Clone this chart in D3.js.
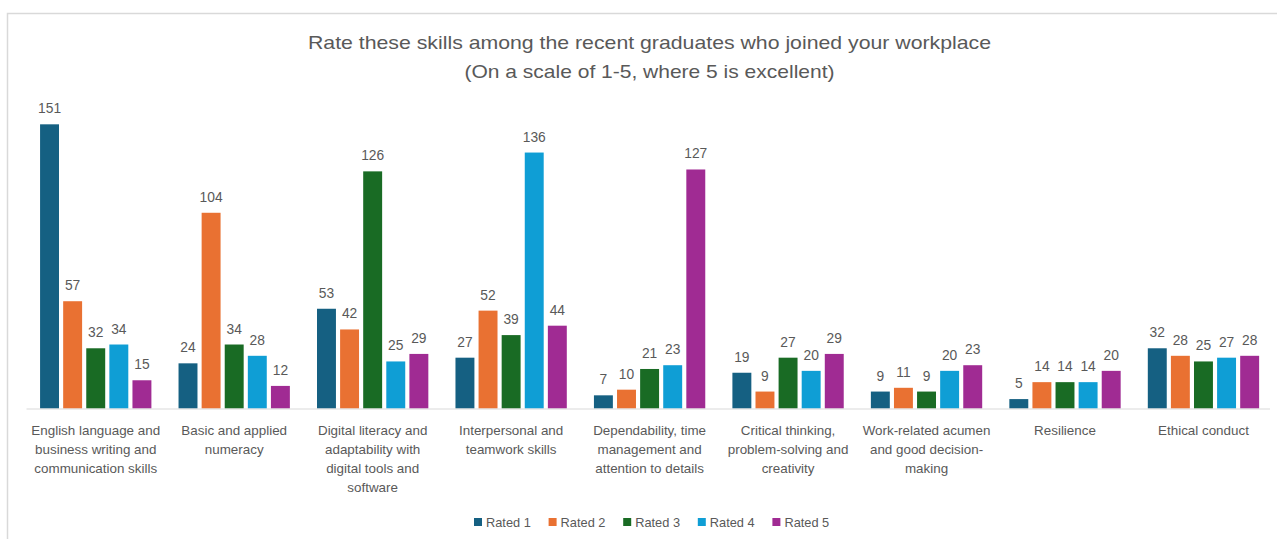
<!DOCTYPE html>
<html>
<head>
<meta charset="utf-8">
<script src="https://cdn.jsdelivr.net/npm/d3@7"></script>
<style>
  html, body { margin: 0; padding: 0; background: #fff; }
  svg { display: block; }
  text { font-family: "Liberation Sans", Arial, sans-serif; }
</style>
</head>
<body>
<svg id="chart" width="1277" height="539"></svg>
<script>
// Skill categories (each entry is the list of lines shown under the group)
const categoryLines = [
  ["English language and", "business writing and", "communication skills"],
  ["Basic and applied", "numeracy"],
  ["Digital literacy and", "adaptability with", "digital tools and", "software"],
  ["Interpersonal and", "teamwork skills"],
  ["Dependability, time", "management and", "attention to details"],
  ["Critical thinking,", "problem-solving and", "creativity"],
  ["Work-related acumen", "and good decision-", "making"],
  ["Resilience"],
  ["Ethical conduct"]
];
const categories = categoryLines.map(l => l.join(" "));

const seriesNames = ["Rated 1", "Rated 2", "Rated 3", "Rated 4", "Rated 5"];
const seriesColors = ["#156082", "#E97132", "#196B24", "#0F9ED5", "#A02B93"];

// Number of respondents giving each rating, per skill
const rated1 = [151, 24, 53, 27, 7, 19, 9, 5, 32];
const rated2 = [57, 104, 42, 52, 10, 9, 11, 14, 28];
const rated3 = [32, 34, 126, 39, 21, 27, 9, 14, 25];
const rated4 = [34, 28, 25, 136, 23, 20, 20, 14, 27];
const rated5 = [15, 12, 29, 44, 127, 29, 23, 20, 28];
const seriesValues = [rated1, rated2, rated3, rated4, rated5];

const titleLines = [
  "Rate these skills among the recent graduates who joined your workplace",
  "(On a scale of 1-5, where 5 is excellent)"
];

const svg = d3.select("#chart");
const W = 1277, H = 539;

// outer chart frame
svg.append("rect")
  .attr("x", 7.5).attr("y", 13.5)
  .attr("width", W + 10).attr("height", H + 10)
  .attr("fill", "#fff")
  .attr("stroke", "#d9d9d9").attr("stroke-width", 1.5);

// title
const titleG = svg.append("g").attr("fill", "#595959");
const titleWidths = [683, 370];
titleG.selectAll("text").data(titleLines).join("text")
  .attr("x", W / 2 + 11)
  .attr("y", (d, i) => 49 + i * 29)
  .attr("text-anchor", "middle")
  .attr("font-size", 19)
  .attr("font-family", "'Liberation Sans Narrow', 'Liberation Sans', sans-serif")
  .attr("textLength", (d, i) => titleWidths[i])
  .attr("lengthAdjust", "spacingAndGlyphs")
  .text(d => d);

// scales
const plotLeft = 26.5, plotRight = 1272.7;
const baseY = 408.5;
const x0 = d3.scaleBand()
  .domain(categories)
  .range([plotLeft, plotRight])
  .paddingInner(0.196)
  .paddingOuter(0.098);
const x1 = d3.scaleBand()
  .domain(seriesNames)
  .range([0, x0.bandwidth()])
  .paddingInner(0.18);
const y = d3.scaleLinear()
  .domain([0, 160])
  .range([baseY, baseY - 160 * 1.882]);

// bars
const groups = svg.append("g").selectAll("g")
  .data(categories)
  .join("g")
  .attr("transform", d => `translate(${x0(d)},0)`);

const cells = groups.selectAll("g.cell")
  .data((c, ci) => seriesNames.map((s, si) => ({ s, si, v: seriesValues[si][ci] })))
  .join("g").attr("class", "cell");

cells.append("rect")
  .attr("x", d => x1(d.s))
  .attr("y", d => y(d.v))
  .attr("width", x1.bandwidth())
  .attr("height", d => y(0) - y(d.v))
  .attr("fill", d => seriesColors[d.si]);

cells.append("text")
  .attr("x", d => x1(d.s) + x1.bandwidth() / 2)
  .attr("y", d => y(d.v) - 11)
  .attr("text-anchor", "middle")
  .attr("font-size", 13.8)
  .attr("fill", "#595959")
  .text(d => d.v);

// baseline
svg.append("line")
  .attr("x1", plotLeft).attr("x2", 1270)
  .attr("y1", baseY + 0.5).attr("y2", baseY + 0.5)
  .attr("stroke", "#d9d9d9").attr("stroke-width", 1.2);

// category axis labels
const xAxis = d3.axisBottom(x0).tickSize(0).tickFormat(() => "");
const axisG = svg.append("g")
  .attr("transform", `translate(0,${baseY})`)
  .call(xAxis);
axisG.select(".domain").remove();
axisG.selectAll(".tick text").remove();
axisG.selectAll(".tick").each(function (d, i) {
  const t = d3.select(this).append("text")
    .attr("text-anchor", "middle")
    .attr("fill", "#595959")
    .attr("font-size", 13.4);
  categoryLines[i].forEach((line, li) => {
    t.append("tspan")
      .attr("x", 0)
      .attr("y", 26 + li * 19)
      .text(line);
  });
});

// legend
const legend = svg.append("g").attr("transform", "translate(474,522)");
const legendItems = legend.selectAll("g")
  .data(seriesNames)
  .join("g")
  .attr("transform", (d, i) => `translate(${i * 74.6},0)`);
legendItems.append("rect")
  .attr("x", 0).attr("y", -4)
  .attr("width", 8).attr("height", 8)
  .attr("fill", (d, i) => seriesColors[i]);
legendItems.append("text")
  .attr("x", 12).attr("y", 4.5)
  .attr("font-size", 12.8)
  .attr("fill", "#595959")
  .text(d => d);
</script>
</body>
</html>
